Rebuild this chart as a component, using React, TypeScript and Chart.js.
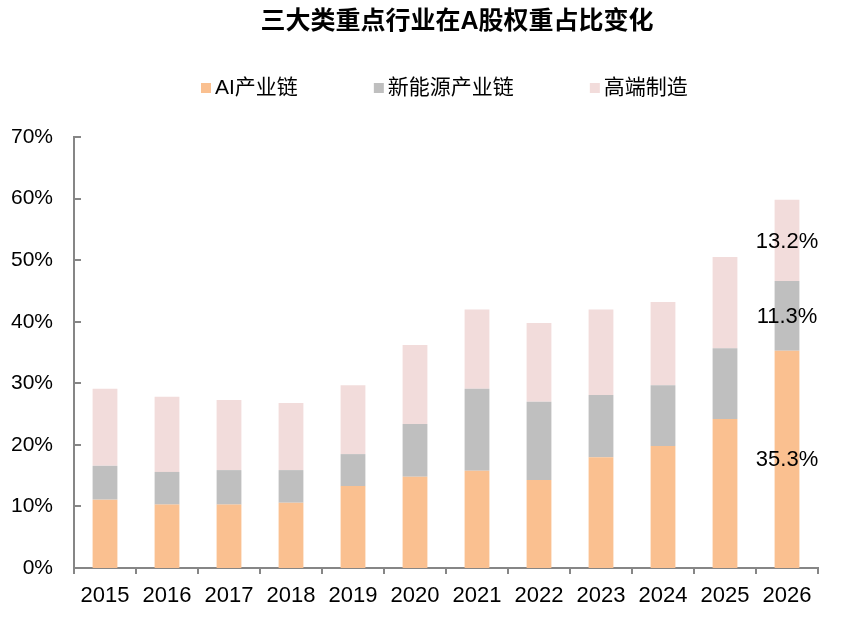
import { useEffect, useRef } from "react";
import { Chart, registerables } from "chart.js";

Chart.register(...registerables);

const categories = ["2015", "2016", "2017", "2018", "2019", "2020", "2021", "2022", "2023", "2024", "2025", "2026"];
const aiChain = [11.1, 10.3, 10.3, 10.6, 13.3, 14.8, 15.8, 14.3, 18.0, 19.8, 24.2, 35.3];
const newEnergy = [5.5, 5.3, 5.6, 5.3, 5.2, 8.6, 13.3, 12.7, 10.1, 9.9, 11.5, 11.3];
const highEnd = [12.5, 12.2, 11.4, 10.9, 11.2, 12.8, 12.9, 12.8, 13.9, 13.5, 14.8, 13.2];
const seriesNames = ["AI产业链", "新能源产业链", "高端制造"];
const seriesColors = ["#FAC090", "#BFBFBF", "#F2DCDB"];
const titleText = "三大类重点行业在A股权重占比变化";
const labelIndex = 11;

const AXIS_COLOR = "#868686";
const FONT = '"Liberation Sans", "Noto Sans CJK SC", sans-serif';

const decorPlugin = {
  id: "decor",
  afterDraw(chart: any) {
    const { ctx, chartArea } = chart;
    const yScale = chart.scales.y;
    ctx.save();
    // inward y tick marks
    ctx.strokeStyle = AXIS_COLOR;
    ctx.lineWidth = 2;
    yScale.ticks.forEach((t: any) => {
      const py = Math.round(yScale.getPixelForValue(t.value));
      ctx.beginPath();
      ctx.moveTo(chartArea.left, py);
      ctx.lineTo(chartArea.left + 7, py);
      ctx.stroke();
    });
    // value labels on the annotated bar
    ctx.font = `22px ${FONT}`;
    ctx.fillStyle = "#000";
    ctx.textAlign = "center";
    ctx.textBaseline = "middle";
    chart.data.datasets.forEach((ds: any, i: number) => {
      const el = chart.getDatasetMeta(i).data[labelIndex];
      if (!el) return;
      const p = el.getProps(["x", "y", "base"], true);
      ctx.fillText(Number(ds.data[labelIndex]).toFixed(1) + "%", p.x, (p.y + p.base) / 2 + 1);
    });
    // title
    ctx.font = `bold 25px ${FONT}`;
    ctx.fillStyle = "#000";
    ctx.textAlign = "center";
    ctx.fillText(titleText, 457, 22);
    // legend
    ctx.font = `21px ${FONT}`;
    ctx.textAlign = "left";
    let x = 201;
    chart.data.datasets.forEach((ds: any) => {
      ctx.fillStyle = ds.backgroundColor;
      ctx.fillRect(x, 83, 10, 10);
      ctx.fillStyle = "#000";
      ctx.fillText(ds.label, x + 14, 88);
      x += 14 + ctx.measureText(ds.label).width + 76;
    });
    ctx.restore();
  },
};

export default function App() {
  const canvasRef = useRef<HTMLCanvasElement | null>(null);

  useEffect(() => {
    document.body.style.margin = "0";
    const canvas = canvasRef.current;
    if (!canvas) return;
    const chart = new Chart(canvas, {
      type: "bar",
      data: {
        labels: categories,
        datasets: [
          { label: seriesNames[0], data: aiChain, backgroundColor: seriesColors[0] },
          { label: seriesNames[1], data: newEnergy, backgroundColor: seriesColors[1] },
          { label: seriesNames[2], data: highEnd, backgroundColor: seriesColors[2] },
        ],
      },
      options: {
        responsive: false,
        animation: false,
        devicePixelRatio: 1,
        layout: { padding: { top: 137, left: 0, right: 24, bottom: 0 } },
        datasets: { bar: { categoryPercentage: 1, barPercentage: 0.4 } },
        plugins: {
          legend: { display: false },
          title: { display: false },
          tooltip: { enabled: false },
        },
        scales: {
          x: {
            stacked: true,
            offset: true,
            grid: {
              offset: true,
              drawOnChartArea: false,
              drawTicks: true,
              tickLength: 6,
              color: AXIS_COLOR,
              lineWidth: 2,
            },
            border: { display: true, color: AXIS_COLOR, width: 2 },
            ticks: { color: "#000", font: { family: FONT, size: 22 }, padding: 9, maxRotation: 0, autoSkip: false },
            afterFit: (s: any) => {
              s.height = 54;
            },
          },
          y: {
            stacked: true,
            min: 0,
            max: 70,
            grid: { display: false, drawTicks: false },
            border: { display: true, color: AXIS_COLOR, width: 2 },
            ticks: {
              stepSize: 10,
              color: "#000",
              font: { family: FONT, size: 21 },
              padding: 21,
              callback: (v: any) => v + "%",
            },
            afterFit: (s: any) => {
              s.width = 74;
            },
          },
        },
      },
      plugins: [decorPlugin],
    });
    return () => chart.destroy();
  }, []);

  return (
    <div style={{ width: 842, height: 622 }}>
      <canvas ref={canvasRef} width={842} height={622} style={{ display: "block" }} />
    </div>
  );
}
